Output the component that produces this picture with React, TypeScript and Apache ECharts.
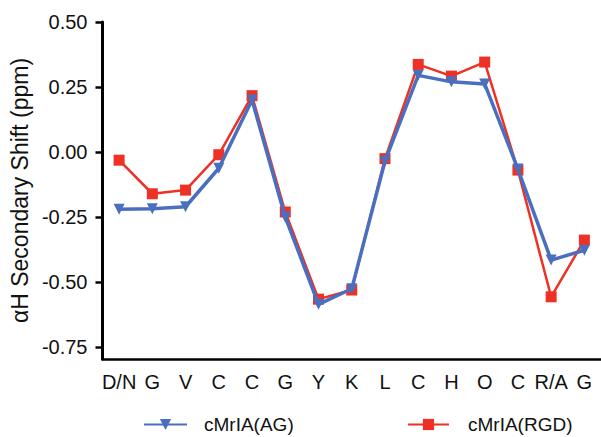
import React, { useEffect, useRef } from "react";
import * as echarts from "echarts";

const categories = ["D/N", "G", "V", "C", "C", "G", "Y", "K", "L", "C", "H", "O", "C", "R/A", "G"];
const agValues = [-0.22, -0.218, -0.21, -0.062, 0.2, -0.25, -0.585, -0.525, -0.035, 0.295, 0.27, 0.262, -0.065, -0.415, -0.377];
const rgdValues = [-0.031, -0.16, -0.146, -0.01, 0.217, -0.23, -0.565, -0.53, -0.025, 0.337, 0.292, 0.346, -0.069, -0.556, -0.338];
const yTicks = [-0.75, -0.5, -0.25, 0, 0.25, 0.5];

const BLUE = "#4a6fbf";
const RED = "#ee3124";
const FONT = "Liberation Sans, Arial, sans-serif";

export default function App() {
  const ref = useRef<HTMLDivElement>(null);
  useEffect(() => {
    if (!ref.current) return;
    const chart = echarts.init(ref.current, null, { renderer: "svg" });
    chart.setOption({
      animation: false,
      backgroundColor: "#ffffff",
      textStyle: { fontFamily: FONT, color: "#111" },
      grid: { left: 97, top: 22, width: 507, bottom: 78, containLabel: false },
      legend: [
        {
          data: [{ name: "cMrIA(AG)" }],
          left: 138,
          top: 410,
          itemWidth: 43,
          itemHeight: 14,
          textStyle: { fontSize: 19, color: "#111", fontFamily: FONT, padding: [0, 0, 0, 12] },
        },
        {
          data: [{ name: "cMrIA(RGD)" }],
          left: 402,
          top: 410,
          itemWidth: 41,
          itemHeight: 14,
          textStyle: { fontSize: 19, color: "#111", fontFamily: FONT, padding: [0, 0, 0, 14] },
        },
      ],
      xAxis: {
        type: "category",
        data: categories,
        boundaryGap: true,
        axisLine: { onZero: false, lineStyle: { color: "#000000", width: 2.5, opacity: 1 } },
        axisTick: { alignWithLabel: true, length: 7, lineStyle: { color: "#000000", width: 2.5 } },
        axisLabel: { fontSize: 20, color: "#111", margin: 13, fontFamily: FONT, interval: 0 },
        splitLine: { show: false },
      },
      yAxis: {
        type: "value",
        min: -0.795,
        max: 0.5,
        name: "\u03b1H Secondary Shift (ppm)",
        nameLocation: "middle",
        nameRotate: 90,
        nameGap: 60,
        nameTextStyle: { fontSize: 23, color: "#111", fontFamily: FONT },
        axisLine: { show: true, onZero: false, lineStyle: { color: "#000000", width: 3, opacity: 1 } },
        axisTick: { show: true, length: 7, customValues: yTicks, lineStyle: { color: "#000000", width: 2.5, opacity: 1 } },
        axisLabel: {
          fontSize: 20,
          color: "#111",
          margin: 15,
          fontFamily: FONT,
          customValues: yTicks,
          formatter: (v: number) => v.toFixed(2),
        },
        splitLine: { show: false },
      },
      series: [
        {
          name: "cMrIA(RGD)",
          type: "line",
          data: rgdValues,
          symbol: "rect",
          symbolSize: 11,
          itemStyle: { color: RED },
          lineStyle: { color: RED, width: 2.5 },
          z: 2,
        },
        {
          name: "cMrIA(AG)",
          type: "line",
          data: agValues,
          symbol: "triangle",
          symbolRotate: 180,
          symbolSize: 11,
          itemStyle: { color: BLUE },
          lineStyle: { color: BLUE, width: 3.5 },
          z: 3,
        },
      ],
    });
    return () => chart.dispose();
  }, []);
  return <div ref={ref} style={{ width: 601, height: 437, position: "absolute", left: 0, top: 0 }} />;
}
